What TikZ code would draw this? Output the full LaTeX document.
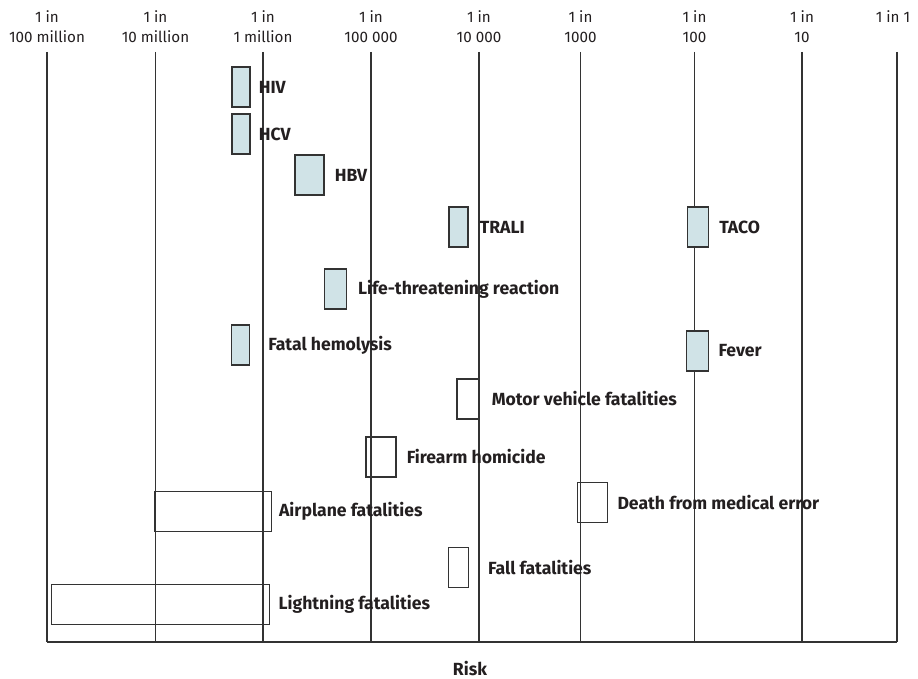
\documentclass[tikz,border=0pt]{standalone}
\usepackage{fontspec}
\setmainfont{Fira Sans}
\usetikzlibrary{positioning}
\definecolor{ink}{HTML}{231F20}
\definecolor{grid}{HTML}{333333}
\definecolor{bloodfill}{HTML}{D0E3E7}
\tikzset{
  scalelabel/.style={align=center, anchor=south, inner sep=0pt, text depth=0pt,
    font=\fontsize{15.2}{20}\selectfont, text=ink},
  riskbox/.style={draw=grid, line width=1.2pt, inner sep=0pt},
  bloodbox/.style={riskbox, fill=bloodfill},
  riskname/.style={inner sep=0pt, text=ink, font=\fontsize{17.6}{20}\selectfont\bfseries},
}
\begin{document}
\begin{tikzpicture}[x=1pt, y=-1pt]
\useasboundingbox (0,0) rectangle (918,679);
% scale of risk
\foreach \x/\t in {47/100 million, 155.5/10 million, 263/1 million, 371/100 000,
  479/10 000, 580.5/1000, 694.5/100, 802/10}
{
    \draw[grid, line width=1.1pt] (\x,52)--(\x,642);
    \node[scalelabel] (top\x) at (\x,43) {1 in\\\t};
}
\draw[grid, line width=1.1pt] (897,52)--(897,642);
\node[scalelabel] (topone) at (893,23) {1 in 1};
\draw[grid, line width=1.1pt] (47,642)--(897,642);
\node[riskname, anchor=base] (risk) at (470,675) {Risk};

% transfusion risks
\node[bloodbox, minimum width=18pt, minimum height=40pt] (hiv) at (241,87) {};
\node[riskname, right=8pt of hiv] (hivt) {HIV};
\node[bloodbox, minimum width=18pt, minimum height=40pt] (hcv) at (241,134) {};
\node[riskname, right=8pt of hcv] (hcvt) {HCV};
\node[bloodbox, minimum width=29pt, minimum height=40pt] (hbv) at (309.5,175) {};
\node[riskname, right=10pt of hbv] (hbvt) {HBV};
\node[bloodbox, minimum width=19pt, minimum height=40pt] (trali) at (458.5,227) {};
\node[riskname, right=11pt of trali] (tralit) {TRALI};
\node[bloodbox, minimum width=21pt, minimum height=40pt] (taco) at (698,227) {};
\node[riskname, right=10pt of taco] (tacot) {TACO};
\node[bloodbox, minimum width=22pt, minimum height=40pt] (life) at (335.3,289) {};
\node[riskname, right=11pt of life] (lifet) {Life-threatening reaction};
\node[bloodbox, minimum width=18pt, minimum height=40pt] (hemo) at (240.5,345) {};
\node[riskname, right=18pt of hemo] (hemot) {Fatal hemolysis};
\node[bloodbox, minimum width=22pt, minimum height=40pt] (fever) at (697.7,351) {};
\node[riskname, right=9pt of fever] (fevert) {Fever};

% everyday risks
\node[riskbox, minimum width=22pt, minimum height=40pt] (motor) at (468,399) {};
\node[riskname, right=12pt of motor] (motort) {Motor vehicle fatalities};
\node[riskbox, minimum width=30pt, minimum height=40pt] (firearm) at (381,457) {};
\node[riskname, right=10pt of firearm] (firearmt) {Firearm homicide};
\node[riskbox, minimum width=30pt, minimum height=40pt] (medical) at (592.7,502.3) {};
\node[riskname, right=9pt of medical] (medicalt) {Death from medical error};
\node[riskbox, minimum width=117pt, minimum height=40pt] (airplane) at (212.8,511.7) {};
\node[riskname, right=7pt of airplane] (airplanet) {Airplane fatalities};
\node[riskbox, minimum width=20pt, minimum height=40pt] (fall) at (458.3,567.5) {};
\node[riskname, right=19pt of fall] (fallt) {Fall fatalities};
\node[riskbox, minimum width=218pt, minimum height=40pt] (lightning) at (160.8,604.3) {};
\node[riskname, right=8pt of lightning] (lightningt) {Lightning fatalities};
\end{tikzpicture}
\end{document}
